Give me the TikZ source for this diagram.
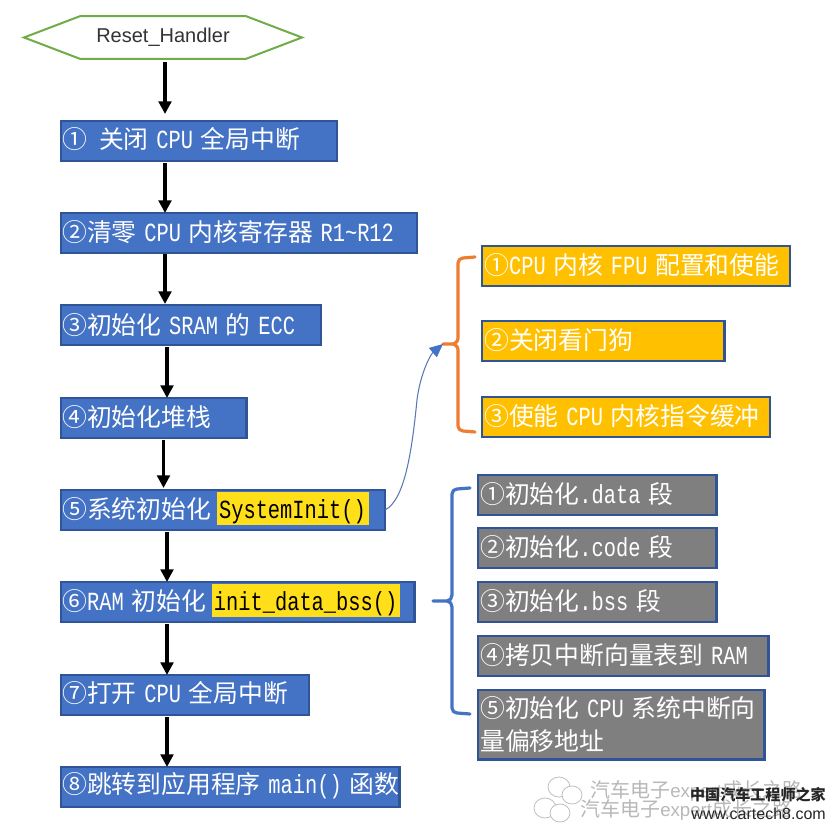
\documentclass[tikz,border=0pt]{standalone}
\usepackage{fontspec}
\usetikzlibrary{arrows.meta}
\setmainfont{Noto Sans CJK SC}
\newfontfamily\latinf{Liberation Sans}
\newfontfamily\cjkf{Noto Sans CJK SC}
\newfontfamily\monof{Liberation Mono}[FakeStretch=0.78]
\definecolor{barblue}{HTML}{4472C4}
\definecolor{edgeblue}{HTML}{2F5597}
\definecolor{hexgreen}{HTML}{70AD47}
\definecolor{boxorange}{HTML}{FFC000}
\definecolor{bracketorange}{HTML}{ED7D31}
\definecolor{boxgrey}{HTML}{7F7F7F}
\definecolor{hiyellow}{HTML}{FFDF1A}
\definecolor{curveblue}{HTML}{5B78B5}
\newcommand{\cj}{\fontsize{18.6pt}{24pt}\selectfont\cjkf}
\newcommand{\mo}[1]{{\fontsize{19.6pt}{24pt}\selectfont\monof #1}}
\newcommand{\gp}{\hspace{5.8pt}}
\newcommand{\hi}[1]{\hspace{4.5pt}\smash{\begingroup\setlength{\fboxsep}{0pt}\colorbox{hiyellow}{\rule[-5.3pt]{0pt}{24.8pt}\hspace{1.5pt}\color{black}\mo{#1}\hspace{2pt}}\endgroup}}
\tikzset{
  x=0.75pt,y=-0.75pt,
  pxbox/.style={anchor=north west,inner sep=0pt,outer sep=0pt,draw=edgeblue,line width=2.2pt,minimum height=30pt},
  flowbox/.style={pxbox,fill=barblue},
  amberbox/.style={pxbox,fill=boxorange},
  greybox/.style={pxbox,fill=boxgrey},
  lbl/.style={anchor=west,inner sep=0pt,text=white,font=\cj},
  flow/.style={-{Triangle[length=9.5pt,width=9.5pt]},line width=2.4pt,black},
  bracket/.style={line width=2.4pt,line cap=round,line join=round},
  wmark/.style={text=black!28,font=\fontsize{15pt}{18pt}\selectfont\cjkf,inner sep=0pt,anchor=west},
  bubble/.style={black!25,line width=.6pt,fill=white},
}
\begin{document}
\begin{tikzpicture}
\useasboundingbox (0,0) rectangle (836,830);
\fill[white] (0,0) rectangle (836,830);
% start
\node[minimum width=208.5pt,minimum height=32pt,inner sep=0pt,outer sep=0pt,
  font=\fontsize{15pt}{18pt}\selectfont\latinf,text=black!80] (reset) at (163,37.5) {\raisebox{-1.5pt}{Reset\_Handler}};
\draw[hexgreen,line width=1.5pt] (reset.west) -- ([xshift=42pt]reset.north west) -- ([xshift=-42pt]reset.north east)
  -- (reset.east) -- ([xshift=-42pt]reset.south east) -- ([xshift=42pt]reset.south west) -- cycle;
% flow boxes
\node[flowbox,minimum width=207pt] (b1) at (61,121) {};
\node[flowbox,minimum width=267pt] (b2) at (61,213) {};
\node[flowbox,minimum width=195pt] (b3) at (61,305) {};
\node[flowbox,minimum width=139pt] (b4) at (61,398) {};
\node[flowbox,minimum width=243pt] (b5) at (61,490) {};
\node[flowbox,minimum width=265pt] (b6) at (61,582) {};
\node[flowbox,minimum width=186pt] (b7) at (61,675) {};
\node[flowbox,minimum width=254pt] (b8) at (61,767) {};
\node[lbl] (t1) at (62,139) {①\hspace{9pt}关闭\gp\mo{CPU}\gp 全局中断};
\node[lbl] (t2) at (62,232) {②清零\gp\mo{CPU}\gp 内核寄存器\gp\mo{R1\textasciitilde R12}};
\node[lbl] (t3) at (62,325) {③初始化\gp\mo{SRAM}\gp 的\gp\mo{ECC}};
\node[lbl] (t4) at (62,417) {④初始化堆栈};
\node[lbl] (t5) at (62,509) {⑤系统初始化\hi{SystemInit()}};
\node[lbl] (t6) at (62,601) {⑥\mo{RAM}\gp 初始化\hi{init\_data\_bss()}};
\node[lbl] (t7) at (62,693) {⑦打开\gp\mo{CPU}\gp 全局中断};
\node[lbl] (t8) at (62,786) {⑧跳转到应用程序\gp\mo{main()}\gp 函数};
% flow arrows
\draw[flow] ([shift={(2,3)}]reset.south) -- ([shift={(104,-7)}]b1.north west);
\draw[flow] ([shift={(104,2)}]b1.south west) -- ([shift={(104,0)}]b2.north west);
\draw[flow] ([shift={(104,1)}]b2.south west) -- ([shift={(104,-1)}]b3.north west);
\draw[flow] ([shift={(106,2)}]b3.south west) -- ([shift={(106,0)}]b4.north west);
\draw[flow] ([shift={(102.5,2)}]b4.south west) -- ([shift={(102.5,-2)}]b5.north west);
\draw[flow] ([shift={(106,2)}]b5.south west) -- ([shift={(106,0)}]b6.north west);
\draw[flow] ([shift={(106,2)}]b6.south west) -- ([shift={(106,0)}]b7.north west);
\draw[flow] ([shift={(106,2)}]b7.south west) -- ([shift={(106,0)}]b8.north west);
% amber boxes
\node[amberbox,minimum width=231pt] (o1) at (482,246) {};
\node[amberbox,minimum width=182pt] (o2) at (482,321) {};
\node[amberbox,minimum width=216pt] (o3) at (482,397) {};
\node[lbl] (p1) at (484,265) {①\mo{CPU}\gp 内核\gp\mo{FPU}\gp 配置和使能};
\node[lbl] (p2) at (484,340) {②关闭看门狗};
\node[lbl] (p3) at (484,416) {③使能\gp\mo{CPU}\gp 内核指令缓冲};
% grey boxes
\node[greybox,minimum width=179pt] (g1) at (478,475) {};
\node[greybox,minimum width=179pt] (g2) at (478,528) {};
\node[greybox,minimum width=179pt] (g3) at (478,582) {};
\node[greybox,minimum width=218pt] (g4) at (478,636) {};
\node[greybox,minimum width=215pt,minimum height=52pt] (g5) at (478,690) {};
\node[lbl] (q1) at (480,494) {①初始化\mo{.data}\gp 段};
\node[lbl] (q2) at (480,547) {②初始化\mo{.code}\gp 段};
\node[lbl] (q3) at (480,601) {③初始化\mo{.bss}\gp 段};
\node[lbl] (q4) at (480,655) {④拷贝中断向量表到\gp\mo{RAM}};
\node[lbl] (q5) at (480,708) {⑤初始化\gp\mo{CPU}\gp 系统中断向};
\node[lbl] (q6) at (480,741) {量偏移地址};
% brackets
\coordinate (otip) at (443,344);
\draw[bracket,bracketorange] (475,257) -- (463,258) to[out=180,in=90] (458,263) -- (458,338)
  to[out=270,in=0] (452,344) -- (otip) (452,344) to[out=0,in=90] (458,350) -- (458,426)
  to[out=270,in=180] (463,431) -- (475,432);
\coordinate (btip) at (433,601);
\draw[bracket,barblue] (470,488) -- (457,489) to[out=180,in=90] (452,494) -- (452,595)
  to[out=270,in=0] (447,601) -- (btip) (447,601) to[out=0,in=90] (452,607) -- (452,708)
  to[out=270,in=180] (457,713) -- (470,714);
% link
\draw[curveblue,line width=0.8pt,-{Triangle[length=10pt,width=9pt,color=barblue]}] (b5.east)
  .. controls (405,500) and (412,450) .. (417,400) .. controls (420,375) and (430,355) .. (otip);
% watermark
\draw[bubble] (559,787) ellipse [x radius=11,y radius=10];
\draw[bubble] (572,795) ellipse [x radius=10,y radius=9];
\draw[bubble] (545,808) ellipse [x radius=11,y radius=10];
\draw[bubble] (560,813) ellipse [x radius=10,y radius=9];
\node[wmark] (w1) at (590,791) {汽车电子{\fontsize{14pt}{16pt}\selectfont\latinf expert}成长之路};
\node[wmark] (w2) at (580,810) {汽车电子{\fontsize{14pt}{16pt}\selectfont\latinf expert}成长之路};
\node[anchor=east,inner sep=0pt,font=\fontsize{11.3pt}{16pt}\selectfont\cjkf\bfseries,text=black!85] (w3) at (826,795) {中国汽车工程师之家};
\node[anchor=east,inner sep=0pt,font=\fontsize{12pt}{16pt}\selectfont\latinf,text=black!85] (w4) at (826,814) {www.cartech8.com};
\end{tikzpicture}
\end{document}
